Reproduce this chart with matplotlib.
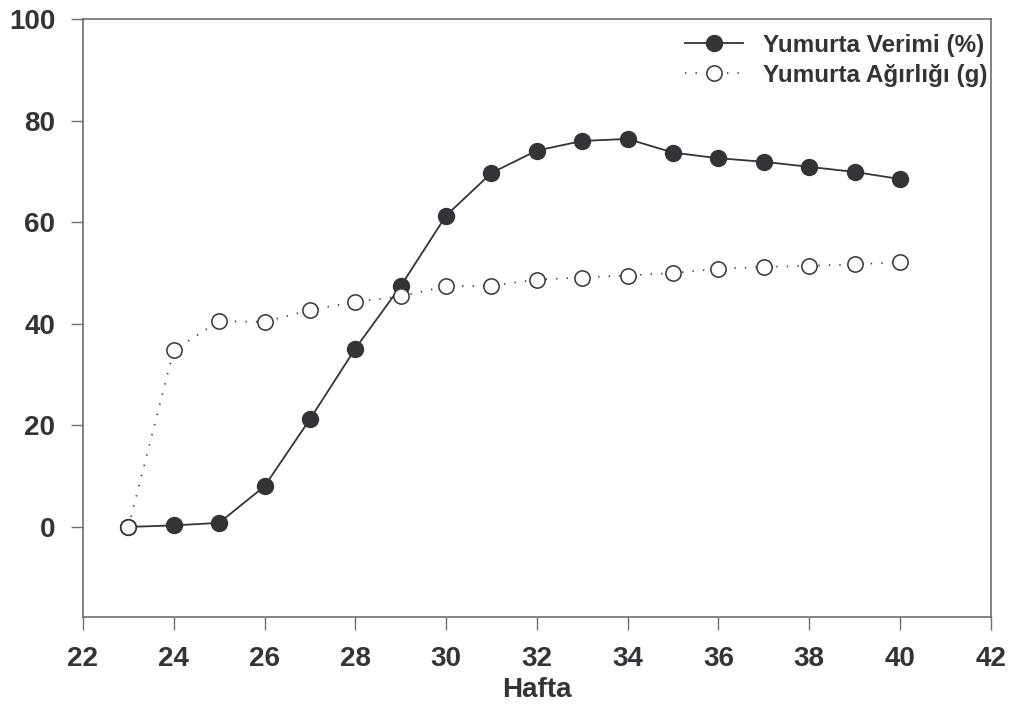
import matplotlib
matplotlib.use("Agg")
import matplotlib.pyplot as plt

plt.rcParams["font.family"] = ["Liberation Sans", "DejaVu Sans"]
plt.rcParams["font.weight"] = "bold"

# data
hafta = [23, 24, 25, 26, 27, 28, 29, 30, 31, 32, 33, 34, 35, 36, 37, 38, 39, 40]
verim = [0.0, 0.3, 0.8, 8.0, 21.2, 35.1, 47.4, 61.3, 69.7, 74.1, 76.0, 76.4,
         73.7, 72.6, 71.9, 70.9, 69.9, 68.5]
agirlik = [0.0, 34.8, 40.5, 40.4, 42.7, 44.3, 45.4, 47.4, 47.5, 48.7, 49.1, 49.5,
           50.0, 50.8, 51.2, 51.4, 51.7, 52.1]
xticks = [22, 24, 26, 28, 30, 32, 34, 36, 38, 40, 42]
yticks = [0, 20, 40, 60, 80, 100]

INK, SPINE = "#333338", "#6e6e6e"

fig = plt.figure(figsize=(10.13, 7.06), dpi=100)
ax = fig.add_axes([0.0819, 0.1256, 0.8961, 0.8474])

ax.plot(hafta, verim, color=INK, lw=1.3, marker="o", ms=11.5, mfc=INK, mec=INK,
        label="Yumurta Verimi (%)", zorder=3)
ax.plot(hafta, agirlik, color=INK, lw=1.2, ls=(0, (0.8, 5.5)), marker="o", ms=11,
        mfc="white", mec=INK, mew=1.1, label="Yumurta Ağırlığı (g)", zorder=4)

ax.set_xlim(22, 42); ax.set_ylim(-17.8, 100)
ax.set_xticks(xticks); ax.set_yticks(yticks)
ax.tick_params(direction="out", length=9, width=1, color=SPINE, labelsize=20,
               labelcolor=INK)
ax.tick_params(axis="y", pad=11)
ax.tick_params(axis="x", pad=12)
for lbl in ax.get_xticklabels() + ax.get_yticklabels():
    lbl.set_fontweight("bold")
for s in ax.spines.values():
    s.set_color(SPINE); s.set_linewidth(1.2)
ax.set_xlabel("Hafta", fontsize=20, fontweight="bold", color=INK, labelpad=3)

leg = ax.legend(loc="upper right", bbox_to_anchor=(1.012, 1.0), frameon=False,
                fontsize=17.5, handlelength=2.4, handletextpad=0.8, labelspacing=0.3,
                borderaxespad=0.2)
for t in leg.get_texts():
    t.set_color(INK); t.set_fontweight("bold")

fig.savefig("out.png", dpi=100)
